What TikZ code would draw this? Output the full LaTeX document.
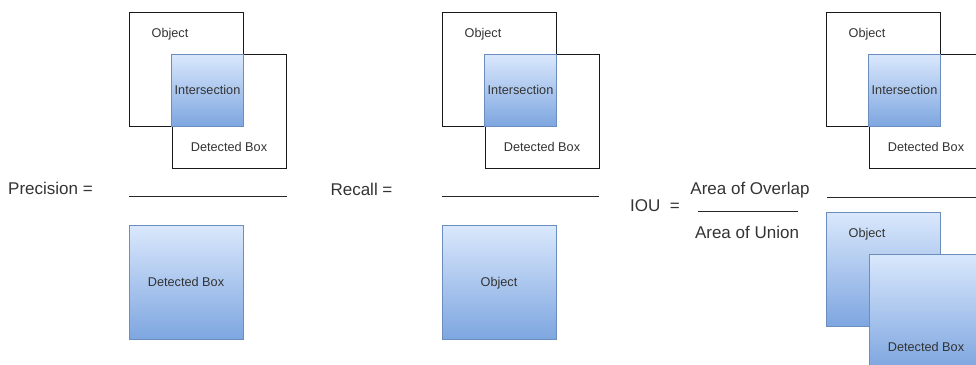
\documentclass[tikz,border=0pt]{standalone}
\usepackage{fontspec}
\setmainfont{Liberation Sans}
\usepackage{xcolor}
\usetikzlibrary{positioning}
\definecolor{paleblue}{HTML}{DAE8FC}
\definecolor{deepblue}{HTML}{7EA6E0}
\definecolor{blueedge}{HTML}{6C8EBF}
\definecolor{inkgray}{HTML}{333333}
\tikzset{
  area/.style = {draw=black!90, line width=0.9pt, minimum size=#1,
                 inner sep=0pt, outer sep=0pt},
  area/.default = 114pt,
  bluebox/.style = {draw=blueedge, line width=0.7pt, top color=paleblue,
                    bottom color=deepblue, minimum size=#1,
                    inner sep=0pt, outer sep=0pt},
  bluebox/.default = 114pt,
  small/.style = {font=\fontsize{12.7}{14}\selectfont, text=inkgray,
                  text height=9pt, text depth=0pt, inner sep=0pt},
  big/.style = {font=\fontsize{17}{20}\selectfont, text=inkgray,
                text height=12pt, text depth=0pt, inner sep=0pt},
  bar/.style = {line width=1pt, draw=black!85}
}

\begin{document}
\begin{tikzpicture}[x=1pt, y=-1pt]
	\def \cut{72pt}  % overlap of object and detected box
	\useasboundingbox (0,0) rectangle (976,364);
	\clip (0,0) rectangle (976,364);

	% Precision
	\node[area] (objP) at (186,69) {};
	\node[area] (detP) at (229,111) {};
	\node[bluebox=\cut] (intP) at (207.5,90) {};
	\node[small] (objtxtP) at ([xshift=41pt,yshift=-21pt]objP.north west) {Object};
	\node[small] at (intP) {Intersection};
	\node[small] (dettxtP) at ([yshift=21pt]detP.south) {Detected Box};
	\node[big] (precision) at (50.5,188) {Precision =};
	\coordinate (precL) at (129,196);
	\coordinate (precR) at (287,196);
	\draw[bar] (precL) -- (precR);
	\node[bluebox] (detboxP) at (186,282) {};
	\node[small] at (detboxP) {Detected Box};

	% Recall
	\node[area] (objR) at (499,69) {};
	\node[area] (detR) at (542,111) {};
	\node[bluebox=\cut] (intR) at (520.5,90) {};
	\node[small] (objtxtR) at ([xshift=41pt,yshift=-21pt]objR.north west) {Object};
	\node[small] at (intR) {Intersection};
	\node[small] (dettxtR) at ([yshift=21pt]detR.south) {Detected Box};
	\node[big] (recall) at (361.5,189) {Recall =};
	\coordinate (recL) at (442,196);
	\coordinate (recR) at (599,196);
	\draw[bar] (recL) -- (recR);
	\node[bluebox] (objboxR) at (499,282) {};
	\node[small] at (objboxR) {Object};

	% IOU
	\node[area] (objI) at (883,69) {};
	\node[area] (detI) at (926,111) {};
	\node[bluebox=\cut] (intI) at (904.5,90) {};
	\node[small] (objtxtI) at ([xshift=41pt,yshift=-21pt]objI.north west) {Object};
	\node[small] at (intI) {Intersection};
	\node[small] (dettxtI) at ([yshift=21pt]detI.south) {Detected Box};
	\node[big] (iou) at (655,205) {IOU~~=};
	\node[big] (overlap) at (750,188) {Area of Overlap};
	\node[big] (union) at (747,232) {Area of Union};
	\coordinate (fracL) at (698,211);
	\coordinate (fracR) at (798,211);
	\draw[bar] (fracL) -- (fracR);
	\coordinate (iouL) at (827,197);
	\coordinate (iouR) at (990,197);
	\draw[bar] (iouL) -- (iouR);
	\node[bluebox] (objboxI) at (883,269) {};
	\node[small] (objtxtB) at ([xshift=41pt,yshift=-21pt]objboxI.north west) {Object};
	\node[bluebox] (detboxI) at (926,311) {};
	\node[small] (dettxtB) at ([yshift=21pt]detboxI.south) {Detected Box};
\end{tikzpicture}
\end{document}
